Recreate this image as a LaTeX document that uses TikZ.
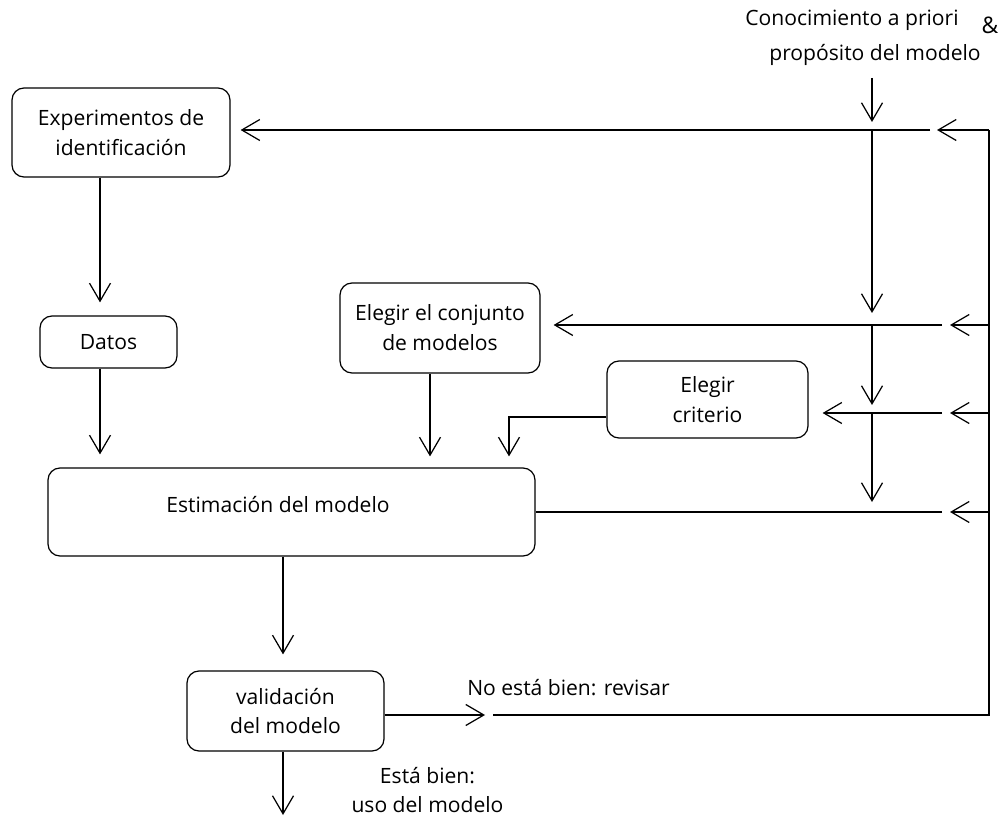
\documentclass[tikz,border=0pt]{standalone}
\usepackage{fontspec}
\setmainfont{Open Sans}
\usepackage{tikz}
\usetikzlibrary{
    arrows.meta,
    positioning,
    calc
}
\newcommand{\boxfont}{\fontsize{12}{17}\selectfont}
\tikzstyle{block} = [
    rectangle,
    rounded corners=0.24cm,
    draw=black,
    line width=0.7pt,
    align=center,
    inner sep=0pt,
    font=\boxfont
]
\tikzstyle{line} = [
    line width=0.7pt,
    draw=black
]
\tikzstyle{arrow} = [
    line,
    -{Straight Barb[length=0.36cm, width=0.42cm]}
]
\tikzstyle{label} = [
    font=\boxfont,
    align=center,
    inner sep=0pt
]

\begin{document}
\begin{tikzpicture}
        \useasboundingbox (0,0) rectangle (20.04,-16.38);

        % Blocks
        \node[block, minimum width=4.36cm, minimum height=1.78cm] (expe) at (2.42,-2.65) {Experimentos de\\identificación};
        \node[block, minimum width=2.74cm, minimum height=1.04cm] (datos) at (2.17,-6.84) {Datos};
        \node[block, minimum width=4.0cm, minimum height=1.8cm] (conj) at (8.8,-6.56) {Elegir el conjunto\\de modelos};
        \node[block, minimum width=4.02cm, minimum height=1.54cm] (crit) at (14.15,-7.99) {Elegir\\criterio};
        \node[block, minimum width=9.74cm, minimum height=1.76cm] (estim) at (5.83,-10.24) {};
        \node[label] (estimtxt) at (5.56,-10.1) {Estimación del modelo};
        \node[block, minimum width=3.94cm, minimum height=1.6cm] (valid) at (5.71,-14.22) {validación\\del modelo};

        % Texts
        \node[label] (prior) at (17.04,-0.4) {Conocimiento a priori};
        \node[label, font=\fontsize{13}{17}\selectfont] (amp) at (19.8,-0.5) {\&};
        \node[label] (prop) at (17.5,-1.1) {propósito del modelo};
        \node[label] (revisar) at (11.37,-13.76) {No está bien: revisar};
        \node[label] (bien) at (8.55,-15.8) {Está bien:\\uso del modelo};

        % Junctions
        \coordinate (src) at (17.44,-1.56);
        \coordinate (jA) at (17.44,-2.6);
        \coordinate (jB) at (17.44,-6.5);
        \coordinate (jC) at (17.44,-8.26);
        \coordinate (jD) at (17.44,-10.24);
        \coordinate (rA) at (19.78,-2.6);
        \coordinate (rB) at (19.78,-6.5);
        \coordinate (rC) at (19.78,-8.26);
        \coordinate (rD) at (19.78,-10.24);
        \coordinate (rE) at (19.78,-14.3);
        \coordinate (colA) at (2.0,0);
        \coordinate (colB) at (8.6,0);
        \coordinate (colC) at (5.66,0);
        \coordinate (cturn) at (10.18,-8.34);
        \coordinate (fb) at (9.7,-14.3);
        \coordinate (out) at (5.66,-16.3);

        % Main column
        \draw[arrow, shorten >=0.16cm] (src) -- (jA);
        \draw[arrow, shorten >=0.24cm] (jA) -- (jB);
        \draw[arrow, shorten >=0.16cm] (jB) -- (jC);
        \draw[arrow, shorten >=0.2cm] (jC) -- (jD);

        % Feedback column
        \draw[line] ([xshift=0.16cm]fb) -- (rE) -- (rA);
        \draw[arrow, shorten >=1.3cm] (rA) -- (jA);
        \draw[arrow, shorten >=1.56cm] (rB) -- (jB);
        \draw[arrow, shorten >=1.56cm] (rC) -- (jC);
        \draw[arrow, shorten >=1.56cm] (rD) -- (jD);
        \draw[arrow, shorten <=1.18cm, shorten >=0.2cm] (rA) -- (expe.east |- rA);
        \draw[arrow, shorten <=0.94cm, shorten >=0.26cm] (rB) -- (conj.east |- rB);
        \draw[arrow, shorten <=0.94cm, shorten >=0.28cm] (rC) -- (crit.east |- rC);
        \draw[line, shorten <=0.94cm] (rD) -- (estim.east);

        % Left chain
        \draw[arrow, shorten >=0.26cm] (expe.south -| colA) -- (datos.north -| colA);
        \draw[arrow, shorten >=0.26cm] (datos.south -| colA) -- (estim.north -| colA);
        \draw[arrow, shorten >=0.22cm] (conj.south -| colB) -- (estim.north -| colB);
        \draw[arrow, shorten >=0.22cm] (crit.west |- cturn) -- (cturn) -- (estim.north -| cturn);
        \draw[arrow, shorten >=0.32cm] (estim.south -| colC) -- (valid.north -| colC);
        \draw[arrow] (valid.south -| colC) -- (out);
        \draw[arrow] (valid.east |- fb) -- (fb);
    \end{tikzpicture}
\end{document}
